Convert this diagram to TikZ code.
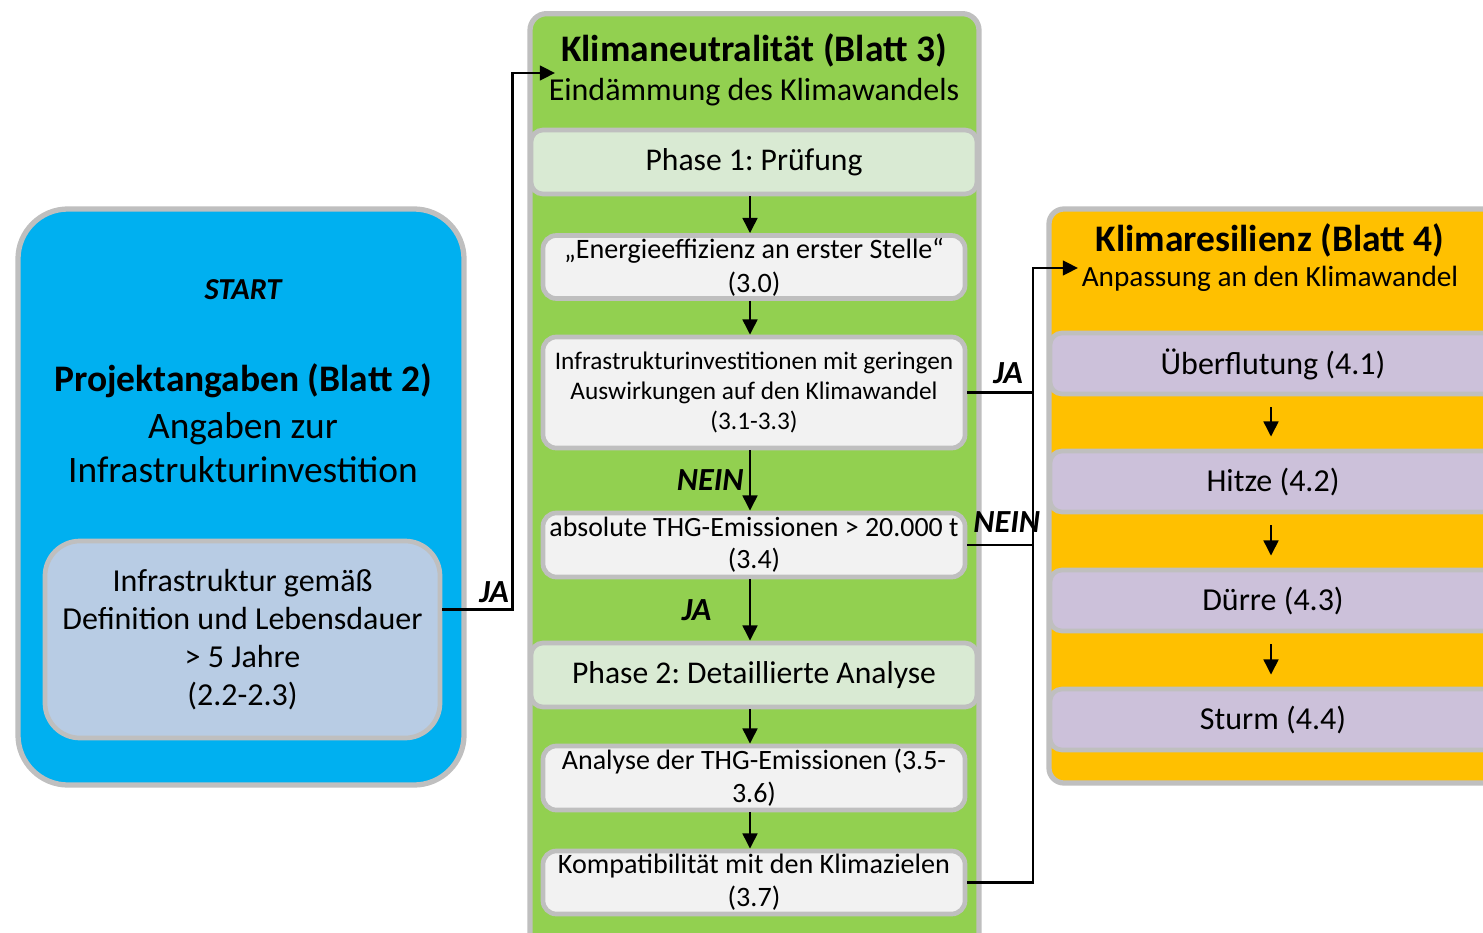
\documentclass[tikz,border=0pt]{standalone}
\usepackage{fontspec}
\setmainfont{Carlito}
\usetikzlibrary{positioning, arrows.meta}
\frenchspacing

\definecolor{rimgray}{HTML}{BFBFBF}
\definecolor{startblue}{HTML}{00B0F0}
\definecolor{innerblue}{HTML}{B8CCE4}
\definecolor{neutralgreen}{HTML}{92D050}
\definecolor{phasegreen}{HTML}{D9EAD3}
\definecolor{stepgray}{HTML}{F2F2F2}
\definecolor{resiorange}{HTML}{FFC000}
\definecolor{hazardlilac}{HTML}{CCC1DA}

\tikzset{
  sheet/.style={draw=rimgray, line width=4.5pt, rounded corners=0.5cm},
  phasebox/.style={draw=rimgray, line width=4pt, rounded corners=0.36cm, fill=phasegreen,
    minimum width=13.38cm, minimum height=1.92cm, font=\fontsize{27}{32}\selectfont},
  checkbox/.style={draw=rimgray, line width=4pt, rounded corners=0.4cm, fill=stepgray,
    minimum width=12.66cm, minimum height=1.92cm, align=center, inner sep=1pt},
  hazard/.style={draw=rimgray, line width=4pt, rounded corners=0.36cm, fill=hazardlilac,
    minimum width=14.1cm, minimum height=1.83cm},
  hazardtext/.style={font=\fontsize{27.3}{32}\selectfont},
  answer/.style={font=\fontsize{27.5}{32}\selectfont\bfseries\itshape},
  arr/.style={line width=2.4pt, -{Triangle[length=13pt, width=12.5pt]}},
  bus/.style={line width=2.4pt},
}

\begin{document}
\begin{tikzpicture}[x=0.03cm, y=-0.03cm]
	\clip (0,0) rectangle (1483,933);

	% start sheet
	\node (start) [sheet, fill=startblue, rounded corners=1.5cm, minimum width=13.38cm, minimum height=17.28cm] at (241,497) {};
	\node (starttag) [font=\fontsize{26}{31}\selectfont\bfseries\itshape] at (243,290) {START};
	\node (project) [font=\fontsize{32}{38}\selectfont\bfseries] at (243,381) {Projektangaben (Blatt 2)};
	\node (projectsub) [font=\fontsize{31.9}{37.6}\selectfont, align=center] at (243,448) {Angaben zur\\Infrastrukturinvestition};
	\node (infra) [draw=rimgray, line width=4pt, fill=innerblue, rounded corners=1.05cm,
		minimum width=11.85cm, minimum height=5.91cm, align=center,
		font=\fontsize{27.3}{32.4}\selectfont] at (242.5,639.5)
		{Infrastruktur gemäß\\Definition und Lebensdauer\\> 5 Jahre\\(2.2-2.3)};

	% neutrality sheet
	\node (neutral) [sheet, fill=neutralgreen, minimum width=13.47cm, minimum height=28.4cm] at (754.5,487) {};
	\node (neutraltitle) [font=\fontsize{32}{38}\selectfont\bfseries] at (754,50) {Klimaneutralität (Blatt 3)};
	\node (neutralsub) [font=\fontsize{27.3}{33}\selectfont] at (754,92) {Eindämmung des Klimawandels};
	\node (phase1) [phasebox] at (754,162) {Phase 1: Prüfung};
	\node (effizienz) [checkbox, minimum height=1.89cm, font=\fontsize{24}{29}\selectfont] at (754,267)
		{„Energieeffizienz an erster Stelle“\\(3.0)};
	\node (geringe) [checkbox, minimum height=3.33cm, font=\fontsize{21.6}{25.6}\selectfont] at (754,392.5)
		{Infrastrukturinvestitionen mit geringen\\Auswirkungen auf den Klimawandel\\(3.1-3.3)};
	\node (absolut) [checkbox, font=\fontsize{23.8}{27.3}\selectfont] at (754,545)
		{absolute THG-Emissionen > 20.000 t\\(3.4)};
	\node (phase2) [phasebox] at (754,675) {Phase 2: Detaillierte Analyse};
	\node (analyse) [checkbox, font=\fontsize{23.9}{28.2}\selectfont] at (754,778)
		{Analyse der THG-Emissionen (3.5-\\3.6)};
	\node (kompat) [checkbox, minimum height=1.89cm, font=\fontsize{24}{28.2}\selectfont] at (754,882.5)
		{Kompatibilität mit den Klimazielen\\(3.7)};

	% resilience sheet
	\node (resilienz) [sheet, fill=resiorange, rounded corners=0.45cm, minimum width=14.13cm, minimum height=17.22cm] at (1284.5,496) {};
	\node (resititle) [font=\fontsize{32}{38}\selectfont\bfseries] at (1270,240) {Klimaresilienz (Blatt 4)};
	\node (resisub) [font=\fontsize{25}{30}\selectfont] at (1270,279) {Anpassung an den Klimawandel};
	\node (flut) [hazard] at (1285,363.5) {};
	\node (hitze) [hazard] at (1285,481.5) {};
	\node (duerre) [hazard] at (1285,600.5) {};
	\node (sturm) [hazard] at (1285,719.5) {};
	\node (flutlabel) [hazardtext] at (1273,364) {Überflutung (4.1)};
	\node (hitzelabel) [hazardtext] at (1273,482) {Hitze (4.2)};
	\node (duerrelabel) [hazardtext] at (1273,601) {Dürre (4.3)};
	\node (sturmlabel) [hazardtext] at (1273,720) {Sturm (4.4)};

	\coordinate (spine) at (750,0);
	\coordinate (hazardspine) at (1271,0);
	\coordinate (intoneutral) at (555,73);
	\coordinate (busjoint) at (1033,268);
	\coordinate (intoresi) at (1078,268);

	\draw [arr] ([yshift=0.9cm]infra.east) -- node [answer, above=1pt, pos=0.74] {JA} ++(70,0) |- (intoneutral);

	\draw [arr] (phase1.south -| spine) -- (effizienz.north -| spine);
	\draw [arr] (effizienz.south -| spine) -- (geringe.north -| spine);
	\draw [arr] (geringe.south -| spine) -- node [answer, left=1pt] {NEIN} (absolut.north -| spine);
	\draw [arr] (absolut.south -| spine) -- node [answer, left=1cm] {JA} (phase2.north -| spine);
	\draw [arr] (phase2.south -| spine) -- (analyse.north -| spine);
	\draw [arr] (analyse.south -| spine) -- (kompat.north -| spine);

	\draw [bus] (geringe.east) -- node [answer, above=3pt, pos=0.62] {JA} (geringe.east -| busjoint);
	\draw [bus] (absolut.east) -- node [answer, above=6pt, pos=0.6] {NEIN} (absolut.east -| busjoint);
	\draw [arr] (kompat.east) -| (busjoint) -- (intoresi);

	\draw [arr, shorten <=0.33cm, shorten >=0.36cm] (flut.south -| hazardspine) -- (hitze.north -| hazardspine);
	\draw [arr, shorten <=0.33cm, shorten >=0.36cm] (hitze.south -| hazardspine) -- (duerre.north -| hazardspine);
	\draw [arr, shorten <=0.33cm, shorten >=0.36cm] (duerre.south -| hazardspine) -- (sturm.north -| hazardspine);
\end{tikzpicture}
\end{document}
